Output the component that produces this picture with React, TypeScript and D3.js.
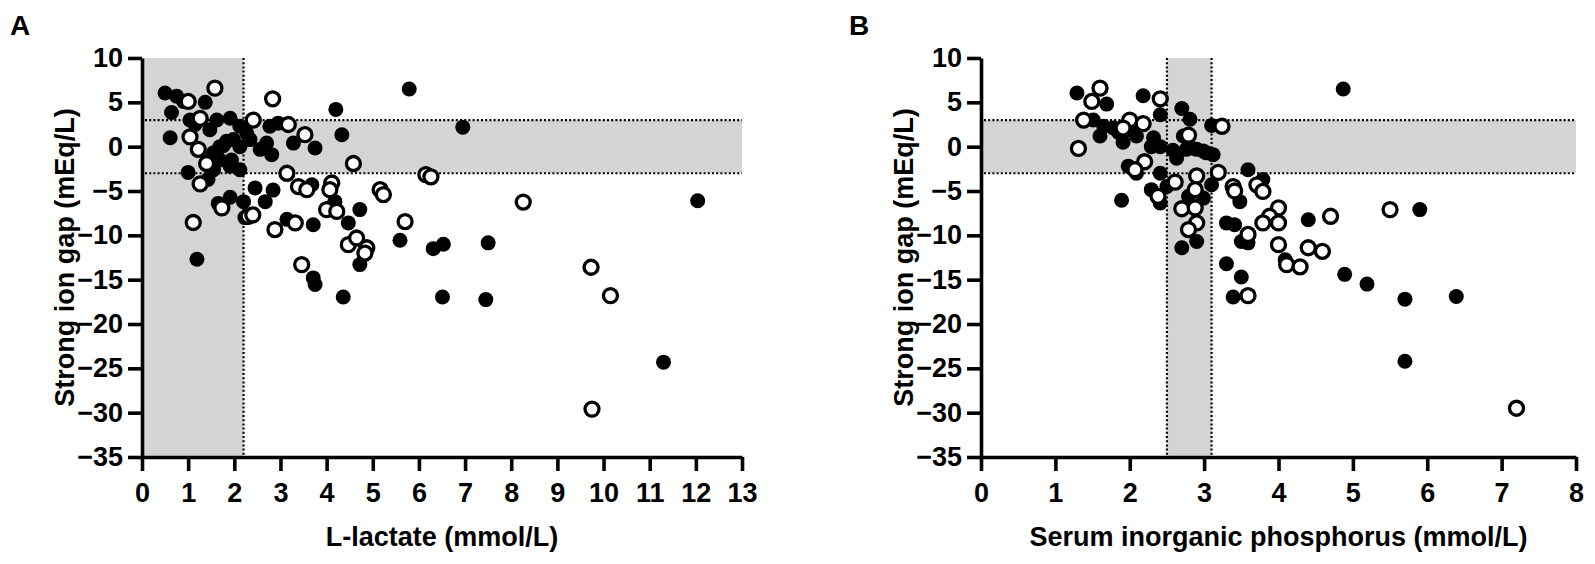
import React, { useEffect, useRef } from "react";
import * as d3 from "d3";

type Pt = [number, number];

// Panel A: L-lactate vs strong ion gap
const lactateFilled: Pt[] = [
  [0.5, 6.05], [0.75, 5.7], [0.9, 5.1], [1.37, 5.0], [0.64, 3.85], [0.61, 1.0],
  [1.04, 3.0], [1.15, 2.5], [1.62, 3.0], [1.91, 3.2], [1.47, 1.9], [2.12, 2.3], [2.27, 1.5],
  [1.69, 0.0], [1.98, 0.8], [2.12, 0.0], [2.34, 0.8], [2.56, -0.3], [2.81, -0.9], [2.7, 0.4],
  [1.83, 0.6], [1.55, -0.7], [1.76, 0.1], [1.69, -1.5], [1.94, -1.5], [2.12, -2.6], [1.55, -2.6],
  [1.0, -2.9], [1.43, -3.7], [1.51, -1.3], [1.91, -2.2],
  [2.77, 2.3], [2.95, 2.65], [3.28, 0.4], [3.75, -0.15], [4.2, 4.2], [4.33, 1.35],
  [1.65, -6.4], [1.91, -5.7], [2.2, -6.2], [2.23, -8.0], [2.45, -4.65], [2.84, -4.9], [2.67, -6.2],
  [3.68, -4.3], [3.14, -8.2], [3.71, -8.8], [4.18, -6.2], [4.72, -7.1], [4.47, -8.6], [4.07, -6.9],
  [5.59, -10.55], [6.31, -11.5], [6.53, -11.0], [7.5, -10.85],
  [4.72, -13.3], [3.71, -14.8], [3.75, -15.55], [4.36, -16.95], [6.51, -16.95], [7.45, -17.25],
  [5.79, 6.5], [6.95, 2.2], [12.04, -6.1], [11.3, -24.3], [1.19, -12.7],
];

const lactateOpen: Pt[] = [
  [1.58, 6.6], [2.83, 5.4], [1.0, 5.1], [1.26, 3.2], [2.41, 3.0], [3.17, 2.5], [3.53, 1.35],
  [1.04, 1.1], [1.22, -0.3], [1.4, -1.9], [1.26, -4.2], [4.58, -1.9], [3.14, -3.0], [3.39, -4.5],
  [3.57, -4.85], [4.11, -4.1], [4.07, -4.85], [5.16, -4.85], [5.23, -5.4],
  [6.15, -3.15], [6.26, -3.4], [8.26, -6.25], [1.11, -8.55], [1.73, -6.9], [2.3, -7.85], [2.4, -7.7],
  [2.88, -9.35], [3.32, -8.6], [4.0, -7.1], [4.22, -7.3], [5.7, -8.45],
  [4.47, -11.05], [4.65, -10.3], [4.87, -11.4], [4.83, -12.0], [3.46, -13.3],
  [9.73, -13.6], [10.15, -16.8], [9.75, -29.6],
];

// Panel B: serum inorganic phosphorus vs strong ion gap
const phosphorusFilled: Pt[] = [
  [1.29, 6.05], [1.69, 4.8], [2.18, 5.75], [2.7, 4.3], [2.81, 3.1], [2.41, 3.6], [3.1, 2.4],
  [1.51, 3.0], [1.6, 1.2], [1.78, 2.1], [1.91, 0.5], [2.09, 1.2], [1.65, 2.3], [1.85, 1.6], [2.0, 1.9],
  [2.32, 1.0], [2.41, 0.0], [2.29, 0.0], [2.58, -0.4], [2.72, 1.2], [2.76, -0.3], [2.83, -0.15],
  [2.9, -0.3], [2.99, -0.5], [3.03, -0.7], [3.12, -0.9], [2.63, -1.3],
  [1.98, -2.2], [2.09, -3.0], [2.41, -3.0], [2.29, -4.85], [2.41, -6.35], [2.5, -4.5], [1.89, -6.05],
  [2.7, -11.4], [2.9, -10.7], [2.79, -5.6], [2.99, -5.8], [3.1, -4.3], [3.59, -2.6], [3.79, -3.7],
  [3.48, -6.2], [3.3, -8.6], [3.41, -8.8], [3.5, -10.7], [3.59, -10.85], [3.3, -13.2], [3.5, -14.7],
  [3.39, -16.95], [4.09, -12.75], [4.4, -8.25], [4.87, 6.5], [4.89, -14.4], [5.19, -15.5],
  [5.7, -17.2], [6.39, -16.9], [5.7, -24.2], [5.9, -7.1],
];

const phosphorusOpen: Pt[] = [
  [1.6, 6.6], [1.49, 5.1], [2.41, 5.4], [1.38, 3.0], [1.31, -0.2], [2.0, 3.0], [2.18, 2.6],
  [1.91, 2.1], [2.79, 1.3], [3.24, 2.3], [2.2, -1.7], [2.07, -2.6], [2.9, -3.3], [3.19, -2.9],
  [2.61, -4.0], [2.38, -5.6], [2.7, -7.0], [2.88, -4.85], [2.88, -6.9], [2.9, -8.6], [2.79, -9.35],
  [3.39, -4.5], [3.41, -5.0], [3.71, -4.3], [3.79, -5.05], [4.0, -6.9], [3.88, -7.85], [3.79, -8.6],
  [4.0, -8.6], [4.0, -11.05], [4.11, -13.3], [4.29, -13.55], [4.4, -11.4], [4.59, -11.8],
  [4.7, -7.85], [3.59, -9.9], [3.59, -16.8], [5.5, -7.1], [7.2, -29.5],
];

const yTicks = [10, 5, 0, -5, -10, -15, -20, -25, -30, -35];
const lactateTicks = d3.range(0, 14);
const phosphorusTicks = d3.range(0, 9);

interface PanelSpec {
  letter: string;
  xTitle: string;
  xMax: number;
  xTicks: number[];
  left: number;
  right: number;
  bandX: [number, number]; // shaded reference interval on x
  dottedX: number[];
  filled: Pt[];
  open: Pt[];
}

const panels: PanelSpec[] = [
  {
    letter: "A",
    xTitle: "L-lactate (mmol/L)",
    xMax: 13,
    xTicks: lactateTicks,
    left: 142,
    right: 742,
    bandX: [0, 2.2],
    dottedX: [2.2],
    filled: lactateFilled,
    open: lactateOpen,
  },
  {
    letter: "B",
    xTitle: "Serum inorganic phosphorus (mmol/L)",
    xMax: 8,
    xTicks: phosphorusTicks,
    left: 981,
    right: 1576,
    bandX: [2.5, 3.1],
    dottedX: [2.5, 3.1],
    filled: phosphorusFilled,
    open: phosphorusOpen,
  },
];

const FONT = "Arial, 'Liberation Sans', Helvetica, sans-serif";

export default function App() {
  const ref = useRef<SVGSVGElement>(null);

  useEffect(() => {
    if (!ref.current) return;
    const svg = d3.select(ref.current);
    svg.selectAll("*").remove();

    const top = 58;
    const bottom = 457;

    panels.forEach((p) => {
      const x = d3.scaleLinear().domain([0, p.xMax]).range([p.left, p.right]);
      const y = d3.scaleLinear().domain([-35, 10]).range([bottom, top]);
      const g = svg.append("g");

      // shaded reference ranges
      g.append("rect")
        .attr("x", x(p.bandX[0]))
        .attr("y", y(10))
        .attr("width", x(p.bandX[1]) - x(p.bandX[0]))
        .attr("height", y(-35) - y(10))
        .style("fill", "#d4d4d4");
      g.append("rect")
        .attr("x", x(0))
        .attr("y", y(3))
        .attr("width", x(p.xMax) - x(0))
        .attr("height", y(-3) - y(3))
        .style("fill", "#d4d4d4");

      // dotted limits
      [3, -3].forEach((v) => {
        g.append("line")
          .attr("x1", x(0) + 3)
          .attr("x2", x(p.xMax))
          .attr("y1", y(v))
          .attr("y2", y(v))
          .style("stroke", "#000")
          .style("stroke-width", 2.2)
          .style("stroke-dasharray", "2,2.2");
      });
      p.dottedX.forEach((v) => {
        g.append("line")
          .attr("x1", x(v))
          .attr("x2", x(v))
          .attr("y1", y(10))
          .attr("y2", y(-35))
          .style("stroke", "#000")
          .style("stroke-width", 2.2)
          .style("stroke-dasharray", "2,2.2");
      });

      // points
      g.selectAll(".filled")
        .data(p.filled)
        .enter()
        .append("circle")
        .attr("cx", (d) => x(d[0]))
        .attr("cy", (d) => y(d[1]))
        .attr("r", 7.5)
        .style("fill", "#000");

      g.selectAll(".open")
        .data(p.open)
        .enter()
        .append("circle")
        .attr("cx", (d) => x(d[0]))
        .attr("cy", (d) => y(d[1]))
        .attr("r", 7)
        .style("fill", "#fff")
        .style("stroke", "#000")
        .style("stroke-width", 3.3);

      // axes
      const xAxis = g
        .append("g")
        .attr("transform", `translate(0,${bottom})`)
        .call(
          d3.axisBottom(x).tickValues(p.xTicks).tickSize(14).tickSizeOuter(0).tickPadding(12)
        );
      const yAxis = g
        .append("g")
        .attr("transform", `translate(${p.left},0)`)
        .call(d3.axisLeft(y).tickValues(yTicks).tickSize(14).tickSizeOuter(0).tickPadding(5));

      [xAxis, yAxis].forEach((a) => {
        a.select(".domain").style("stroke", "#000").style("stroke-width", 3.6);
        a.selectAll(".tick line").style("stroke", "#000").style("stroke-width", 3.6);
        a.selectAll(".tick text")
          .style("font-family", FONT)
          .style("font-size", "27px")
          .style("font-weight", "bold")
          .style("fill", "#000");
      });

      // titles
      g.append("text")
        .attr("x", (p.left + p.right) / 2)
        .attr("y", 546)
        .attr("text-anchor", "middle")
        .style("font-family", FONT)
        .style("font-size", "27px")
        .style("font-weight", "bold")
        .text(p.xTitle);

      g.append("text")
        .attr("transform", `translate(${p.left - 68},${(top + bottom) / 2}) rotate(-90)`)
        .attr("text-anchor", "middle")
        .style("font-family", FONT)
        .style("font-size", "27px")
        .style("font-weight", "bold")
        .text("Strong ion gap (mEq/L)");

      g.append("text")
        .attr("x", p.left - 132)
        .attr("y", 35)
        .style("font-family", FONT)
        .style("font-size", "28px")
        .style("font-weight", "bold")
        .text(p.letter);
    });
  }, []);

  return (
    <svg
      ref={ref}
      width={1595}
      height={564}
      style={{ position: "absolute", left: 0, top: 0, background: "#fff" }}
    />
  );
}
